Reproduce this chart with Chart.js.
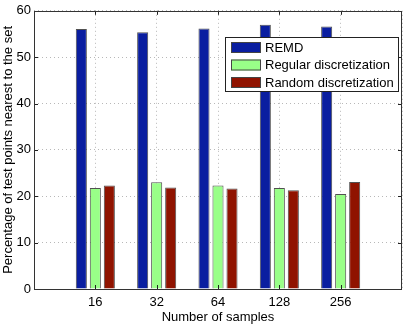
<!DOCTYPE html>
<html>
<head>
<meta charset="utf-8">
<script src="https://cdn.jsdelivr.net/npm/chart.js@4"></script>
<style>
  html, body { margin: 0; padding: 0; background: #fff; }
  #wrap { width: 409px; height: 325px; }
</style>
</head>
<body>
<div id="wrap"><canvas id="myChart" width="409" height="325"></canvas></div>
<script>
// blank slots at both ends, like the matlab xlim [0 6]
const sampleLabels = ['', '16', '32', '64', '128', '256', ''];
const remdValues = [null, 56.1, 55.4, 56.2, 57.0, 56.6, null];
const regularValues = [null, 21.8, 23.0, 22.3, 21.8, 20.5, null];
const randomValues = [null, 22.3, 21.9, 21.7, 21.3, 23.1, null];
const yTicks = [0, 10, 20, 30, 40, 50, 60];

const FONT = '"Liberation Sans", Arial, sans-serif';

// box, inward ticks and the legend, drawn on top like matlab does
const boxPlugin = {
    id: 'box',
    afterDraw(chart) {
        const { ctx, chartArea: a, scales } = chart;
        ctx.save();
        ctx.strokeStyle = '#222';
        ctx.lineWidth = 1;

        // inward tick marks
        ctx.beginPath();
        yTicks.forEach(v => {
            const y = Math.round(scales.y.getPixelForValue(v)) + 0.5;
            ctx.moveTo(a.left, y); ctx.lineTo(a.left + 4, y);
            ctx.moveTo(a.right, y); ctx.lineTo(a.right - 4, y);
        });
        for (let i = 1; i < sampleLabels.length - 1; i++) {
            const x = Math.round(scales.x.getPixelForValue(i)) + 0.5;
            ctx.moveTo(x, a.bottom); ctx.lineTo(x, a.bottom - 4);
            ctx.moveTo(x, a.top); ctx.lineTo(x, a.top + 4);
        }
        ctx.stroke();

        ctx.strokeStyle = '#333';
        ctx.strokeRect(Math.round(a.left) + 0.5, Math.round(a.top) + 0.5,
            Math.round(a.right - a.left) - 1, Math.round(a.bottom - a.top));

        // legend
        const lx = 225.5, ly = 37.5, lw = 173, lh = 54;
        ctx.fillStyle = '#fff';
        ctx.fillRect(lx, ly, lw, lh);
        ctx.strokeStyle = '#222';
        ctx.strokeRect(lx, ly, lw, lh);
        ctx.font = '13px ' + FONT;
        ctx.textBaseline = 'middle';
        chart.data.datasets.forEach((ds, i) => {
            const sy = 42 + i * 17.5;
            ctx.fillStyle = ds.backgroundColor;
            ctx.fillRect(231, sy, 30, 11);
            ctx.strokeStyle = '#444';
            ctx.strokeRect(231.5, sy + 0.5, 29, 10);
            ctx.fillStyle = '#000';
            ctx.fillText(ds.label, 265, sy + 6);
        });
        ctx.restore();
    }
};

const ctx = document.getElementById('myChart').getContext('2d');
const myChart = new Chart(ctx, {
    type: 'bar',
    data: {
        labels: sampleLabels,
        datasets: [
            { label: 'REMD', data: remdValues, backgroundColor: '#0a1ea0' },
            { label: 'Regular discretization', data: regularValues, backgroundColor: '#99ff88' },
            { label: 'Random discretization', data: randomValues, backgroundColor: '#901300' }
        ]
    },
    options: {
        responsive: false,
        animation: false,
        layout: { padding: { top: 10, right: 7, left: 0, bottom: 0 } },
        datasets: {
            bar: {
                categoryPercentage: 0.685,
                barPercentage: 0.79,
                borderWidth: 1,
                borderColor: 'rgba(50,50,50,0.85)'
            }
        },
        scales: {
            x: {
                offset: false,
                grid: {
                    offset: false,
                    color: '#b8b8b8',
                    lineWidth: 1,
                    drawTicks: false
                },
                border: { display: false, dash: [1, 3] },
                ticks: {
                    padding: 6,
                    color: '#000',
                    font: { family: FONT, size: 13 },
                    autoSkip: false,
                    maxRotation: 0
                },
                title: {
                    display: true,
                    text: 'Number of samples',
                    color: '#000',
                    font: { family: FONT, size: 13 },
                    padding: { top: 0, bottom: 0 }
                },
                afterFit: s => { s.height = 36; }
            },
            y: {
                min: 0,
                max: 60,
                afterBuildTicks: s => { s.ticks = yTicks.map(v => ({ value: v })); },
                grid: {
                    color: '#b8b8b8',
                    lineWidth: 1,
                    drawTicks: false
                },
                border: { display: false, dash: [1, 3] },
                ticks: {
                    padding: 3,
                    color: '#000',
                    font: { family: FONT, size: 13 }
                },
                title: {
                    display: true,
                    text: 'Percentage of test points nearest to the set',
                    color: '#000',
                    font: { family: FONT, size: 13 },
                    padding: { top: 1, bottom: 0 }
                },
                afterFit: s => { s.width = 34; }
            }
        },
        plugins: {
            legend: { display: false },
            tooltip: { enabled: false }
        }
    },
    plugins: [boxPlugin]
});
</script>
</body>
</html>
